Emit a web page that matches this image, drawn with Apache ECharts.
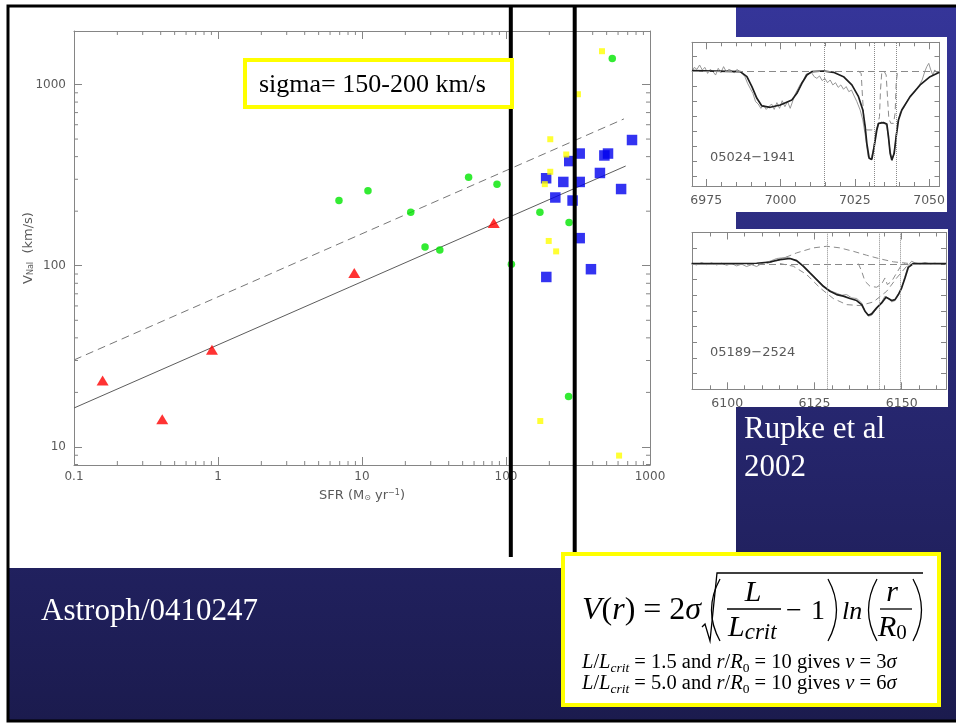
<!DOCTYPE html>
<html>
<head>
<meta charset="utf-8">
<title>NaI outflow velocity vs star formation rate</title>
<script src="https://cdn.jsdelivr.net/npm/echarts@6.0.0/dist/echarts.min.js"></script>
<style>
  html, body { margin: 0; padding: 0; background: #ffffff; }
  #chart { width: 956px; height: 723px; }
</style>
</head>
<body>
<div id="chart"></div>
<script>
// ---------- main panel: NaI outflow velocity against SFR ----------
const greenSFR = [6.92, 11.0, 21.8, 27.4, 34.7, 55.0, 86.6, 109, 172, 274, 547, 272];
const greenV   = [229, 259, 197, 127, 122, 308, 282, 102, 197, 173, 1392, 19.0];

const redSFR = [0.158, 0.41, 0.908, 8.84, 82.2];
const redV   = [23.3, 14.2, 34.4, 91.2, 172];

const blueSFR = [750, 325, 482, 511, 275, 190, 250, 325, 449, 630, 220, 290, 325, 389, 190.5];
const blueV   = [494, 416, 406, 416, 378, 304, 290, 290, 325, 265, 238, 229, 142, 95.7, 86.7];

const yellowSFR = [464, 316, 203, 262, 203, 186, 198, 223, 173, 610];
const yellowV   = [1527, 884, 499, 411, 330, 282, 137, 120, 13.9, 8.96];

// power-law relations (end points)
const fitSolid  = [[0.1, 16.4], [678, 355]];
const fitDashed = [[0.1, 30.2], [659, 646]];

// SFR of the two thick marker lines
const sfrCuts = [108, 300];

// minor tick positions of the log axes
const xMinorTicks = [0.2, 0.3, 0.4, 0.5, 0.6, 0.7, 0.8, 0.9,
                     2, 3, 4, 5, 6, 7, 8, 9,
                     20, 30, 40, 50, 60, 70, 80, 90,
                     200, 300, 400, 500, 600, 700, 800, 900];
const yMinorTicks = [8, 9, 20, 30, 40, 50, 60, 70, 80, 90,
                     200, 300, 400, 500, 600, 700, 800, 900];

// ---------- spectrum 05024-1941 (wavelength, normalised flux) ----------
const sp1Name = '05024\u22121941';
const sp1Lines = [7014.7, 7031.6, 7038.8];
const sp1Obs = [
  [6970.18,0.998],[6970.96,1.026],[6971.86,1.013],[6972.76,1.042],[6973.66,1.009],[6974.55,1.026],
  [6975.45,0.986],[6976.35,1.013],[6977.24,0.998],[6978.14,0.975],[6979.04,1.020],[6979.93,0.991],
  [6980.83,1.031],[6981.73,0.998],[6982.63,1.013],[6983.52,1.004],[6984.42,0.991],[6985.32,1.013],
  [6986.21,0.998],[6987.11,0.986],[6988.01,0.964],[6988.90,0.920],[6989.80,0.886],[6990.70,0.853],
  [6991.59,0.798],[6992.49,0.782],[6993.39,0.753],[6994.29,0.775],[6995.18,0.746],[6996.08,0.764],
  [6996.98,0.782],[6997.87,0.746],[6998.77,0.791],[6999.67,0.753],[7000.56,0.804],[7001.46,0.764],
  [7002.36,0.798],[7003.25,0.753],[7004.15,0.804],[7005.05,0.853],[7005.94,0.886],[7006.84,0.920],
  [7007.74,0.942],[7008.64,0.982],[7009.53,0.986],[7010.43,0.991],[7011.33,0.964],[7012.22,0.953],
  [7013.12,0.969],[7014.02,0.938],[7014.91,0.953],[7015.81,0.924],[7016.71,0.942],[7017.60,0.909],
  [7018.50,0.924],[7019.40,0.893],[7020.30,0.909],[7021.19,0.880],[7022.09,0.898],[7022.99,0.864],
  [7023.88,0.875],[7024.78,0.835],[7025.68,0.798],[7026.80,0.742],[7027.70,0.675],[7028.59,0.564],
  [7029.49,0.431],[7030.39,0.409],[7031.29,0.486],[7032.18,0.609],[7033.08,0.649],[7033.98,0.662],
  [7034.87,0.653],[7035.77,0.635],[7036.67,0.498],[7037.56,0.404],[7038.46,0.486],[7039.36,0.653],
  [7040.25,0.724],[7041.37,0.753],[7042.50,0.798],[7043.62,0.835],[7044.74,0.853],[7045.86,0.886],
  [7046.76,0.909],[7047.65,0.942],[7048.55,0.998],[7049.22,1.031],[7049.89,1.053],[7050.57,1.009],
  [7051.24,0.975],[7051.91,1.009],[7052.58,0.991],[7053.48,0.998]
];
const sp1Fit = [
  [6970.18,1.004],[6986.44,0.998],[6988.68,0.964],[6990.36,0.898],[6992.04,0.820],[6993.72,0.769],
  [6996.53,0.760],[6999.89,0.775],[7003.81,0.809],[7005.50,0.853],[7007.18,0.920],[7008.86,0.975],
  [7010.54,0.998],[7014.47,1.002],[7017.83,0.993],[7021.19,0.964],[7024.00,0.909],[7026.24,0.831],
  [7027.70,0.742],[7028.48,0.631],[7029.04,0.520],[7029.83,0.420],[7030.72,0.413],[7031.51,0.498],
  [7032.41,0.609],[7032.97,0.653],[7034.65,0.658],[7035.77,0.649],[7036.33,0.564],[7036.89,0.453],
  [7037.45,0.409],[7038.24,0.453],[7038.91,0.564],[7039.69,0.675],[7040.81,0.742],[7043.62,0.831],
  [7046.98,0.909],[7050.34,0.964],[7053.48,0.993]
];
const sp1CompA = [
  [7026.24,1.000],[7027.14,0.986],[7027.58,0.831],[7028.15,0.653],[7029.04,0.609],[7030.72,0.609],
  [7032.41,0.620],[7033.30,0.698],[7033.64,0.875],[7034.08,0.995],[7034.65,1.000]
];
const sp1CompB = [
  [7034.87,1.000],[7035.55,0.975],[7035.99,0.831],[7036.44,0.686],[7037.11,0.653],[7038.01,0.653],
  [7038.57,0.720],[7038.91,0.920],[7039.36,0.995],[7040.03,1.000]
];

// ---------- spectrum 05189-2524 ----------
const sp2Name = '05189\u22122524';
const sp2Lines = [6128.7, 6143.6, 6149.7];
const sp2Obs = [
  [6089.79,1.002],[6091.22,0.993],[6092.65,1.008],[6094.09,0.995],[6095.52,1.006],[6096.95,0.993],
  [6098.39,1.004],[6099.82,0.991],[6101.25,1.002],[6102.69,0.987],[6104.12,0.998],[6105.55,0.983],
  [6106.99,0.995],[6108.42,0.983],[6109.86,1.002],[6111.29,1.010],[6112.72,1.021],[6114.16,1.034],
  [6115.59,1.038],[6117.02,1.042],[6118.46,1.032],[6119.89,1.017],[6121.32,0.991],[6122.76,0.961],
  [6124.19,0.932],[6125.62,0.904],[6127.06,0.872],[6128.49,0.842],[6129.92,0.825],[6131.36,0.813],
  [6132.79,0.800],[6134.22,0.804],[6135.66,0.783],[6137.09,0.779],[6138.53,0.751],[6139.48,0.702],
  [6140.44,0.666],[6141.39,0.672],[6142.83,0.715],[6144.26,0.757],[6145.21,0.794],[6146.17,0.783],
  [6147.13,0.757],[6148.08,0.766],[6149.04,0.800],[6150.00,0.851],[6150.95,0.921],[6151.91,0.991],
  [6152.86,1.017],[6153.82,1.006],[6155.25,1.000],[6156.68,1.008],[6158.12,1.000],[6159.55,1.004],
  [6160.99,0.998],[6162.71,1.002]
];
const sp2Fit = [
  [6089.79,1.002],[6100.78,1.002],[6108.42,1.004],[6112.24,1.012],[6115.11,1.027],[6117.98,1.034],
  [6119.89,1.021],[6121.80,0.985],[6123.71,0.942],[6125.62,0.900],[6127.54,0.857],[6129.45,0.825],
  [6131.36,0.804],[6133.27,0.794],[6135.18,0.779],[6137.09,0.766],[6138.53,0.740],[6139.48,0.698],
  [6140.44,0.672],[6141.39,0.681],[6142.83,0.719],[6144.26,0.751],[6145.50,0.787],[6146.17,0.779],
  [6147.13,0.766],[6148.08,0.772],[6149.04,0.804],[6150.00,0.847],[6150.95,0.910],[6151.91,0.978],
  [6153.34,1.002],[6162.71,1.002]
];
const sp2Emission = [
  [6111.29,1.002],[6115.11,1.027],[6119.89,1.070],[6124.67,1.102],[6128.49,1.112],[6132.31,1.102],
  [6136.14,1.080],[6139.96,1.055],[6143.78,1.032],[6147.61,1.013],[6152.38,1.002]
];
const sp2Broad = [
  [6115.11,1.002],[6118.93,0.985],[6122.76,0.932],[6126.58,0.847],[6130.40,0.779],[6134.22,0.740],
  [6138.04,0.734],[6141.87,0.757],[6145.69,0.825],[6148.56,0.910],[6151.43,0.985],[6153.34,1.002]
];
const sp2Narrow = [
  [6137.57,1.002],[6138.53,0.953],[6139.48,0.889],[6140.92,0.857],[6142.83,0.851],[6144.26,0.872],
  [6145.21,0.910],[6145.88,0.868],[6147.13,0.889],[6148.56,0.942],[6149.99,0.995],[6150.95,1.002]
];

// ---------- helpers ----------
const pairs = (xs, ys) => xs.map((x, i) => [x, ys[i]]);
const AXIS = '#858585';
const LABEL = '#5a5a5a';
const SANS = 'DejaVu Sans';
const SERIF = '"Liberation Serif"';

const fmtLog = v => String(+Number(v).toPrecision(3));

function frameAxis(extra) {
  return Object.assign({
    axisLine: { show: true, lineStyle: { color: AXIS, width: 1 } },
    axisTick: { show: true, inside: true, length: 8, lineStyle: { color: AXIS } },
    axisLabel: { show: false },
    splitLine: { show: false }
  }, extra);
}

function spectrumX(grid, min, max, bottom) {
  return frameAxis({
    gridIndex: grid, type: 'value', min: min, max: max,
    minInterval: 25, maxInterval: 25, position: bottom ? 'bottom' : 'top',
    axisTick: { show: true, inside: true, length: 7, lineStyle: { color: AXIS } },
    minorTick: { show: true, splitNumber: 5, length: 4, lineStyle: { color: AXIS } },
    axisLabel: bottom ? {
      show: true, color: LABEL, fontFamily: SANS, fontSize: 12.5, margin: 8,
      showMinLabel: false, showMaxLabel: false, formatter: v => String(Math.round(v))
    } : { show: false }
  });
}

function spectrumY(grid, min, max, left) {
  return frameAxis({
    gridIndex: grid, type: 'value', min: min, max: max,
    minInterval: 0.1, maxInterval: 0.1, position: left ? 'left' : 'right',
    axisTick: { show: true, inside: true, length: 5, lineStyle: { color: AXIS } }
  });
}

function minorTickSeries(values, isX) {
  return {
    type: 'custom', xAxisIndex: 0, yAxisIndex: 0, silent: true, clip: false, z: 1,
    data: values.map(v => isX ? [v, 100] : [1, v]),
    renderItem: (params, api) => {
      const cs = params.coordSys;
      const p = api.coord([api.value(0), api.value(1)]);
      const st = { stroke: AXIS, lineWidth: 1 };
      if (isX) {
        const yb = cs.y + cs.height;
        return { type: 'group', children: [
          { type: 'line', shape: { x1: p[0], y1: yb, x2: p[0], y2: yb - 4 }, style: st },
          { type: 'line', shape: { x1: p[0], y1: cs.y, x2: p[0], y2: cs.y + 4 }, style: st }
        ] };
      }
      const xr = cs.x + cs.width;
      return { type: 'group', children: [
        { type: 'line', shape: { x1: cs.x, y1: p[1], x2: cs.x + 4, y2: p[1] }, style: st },
        { type: 'line', shape: { x1: xr, y1: p[1], x2: xr - 4, y2: p[1] }, style: st }
      ] };
    }
  };
}

function specLine(xi, data, color, width, dashed, extra) {
  return Object.assign({
    type: 'line', xAxisIndex: xi, yAxisIndex: xi, data: data, symbol: 'none', silent: true,
    lineStyle: { color: color, width: width, type: dashed ? [6, 4] : 'solid' }, z: 3
  }, extra || {});
}

function guideLines(lines) {
  return {
    silent: true, symbol: ['none', 'none'], label: { show: false }, animation: false,
    lineStyle: { color: '#8a8a8a', width: 1, type: 'dotted' },
    data: lines.map(v => ({ xAxis: v }))
  };
}

function continuumLine() {
  return {
    silent: true, symbol: ['none', 'none'], label: { show: false }, animation: false,
    lineStyle: { color: '#8a8a8a', width: 1, type: [7, 4] },
    data: [{ yAxis: 1 }]
  };
}

// simple typesetting of serif formula text, placed on a baseline
const measureCtx = document.createElement('canvas').getContext('2d');
function fontOf(t) { return (t.it ? 'italic ' : '') + t.size + 'px ' + SERIF; }
function textAt(id, x, baseline, t, align) {
  return {
    id: id, type: 'text', z: 62, x: x, y: baseline - 0.3375 * t.size,
    style: { text: t.s, font: fontOf(t), fill: '#000', align: align || 'left', verticalAlign: 'middle',
             textAlign: align || 'left', textVerticalAlign: 'middle' }
  };
}
function typeset(idBase, x, baseline, tokens) {
  const out = [];
  let cx = x;
  tokens.forEach((t, k) => {
    measureCtx.font = fontOf(t);
    out.push(textAt(idBase + k, cx, baseline + (t.dy || 0), t));
    cx += measureCtx.measureText(t.s).width;
  });
  return out;
}
function paren(id, x, open) {
  const ctrl = open ? x - 17 : x + 17;
  return { id: id, type: 'bezierCurve', z: 62,
           shape: { x1: x, y1: 579, x2: x, y2: 641, cpx1: ctrl, cpy1: 610 },
           style: { stroke: '#000', lineWidth: 1.3, fill: 'none' } };
}
function caseLine(idBase, baseline, ratio, factor) {
  const S = 20.5, s = 13.5;
  return typeset(idBase, 582, baseline, [
    { s: 'L', it: true, size: S }, { s: '/', size: S }, { s: 'L', it: true, size: S },
    { s: 'crit', it: true, size: s, dy: 3 }, { s: ' = ' + ratio + ' and ', size: S }, { s: 'r', it: true, size: S },
    { s: '/', size: S }, { s: 'R', it: true, size: S }, { s: '0', size: s, dy: 3 },
    { s: ' = 10 gives ', size: S }, { s: 'v', it: true, size: S }, { s: ' = ' + factor, size: S },
    { s: '\u03c3', it: true, size: S }
  ]);
}

// ---------- static drawing elements ----------
const statics = [
  { id: 'slide', type: 'rect', z: -20, shape: { x: 8, y: 6, width: 960, height: 715 },
    style: { fill: new echarts.graphic.LinearGradient(0, 0, 0, 1, [
      { offset: 0, color: '#353599' }, { offset: 1, color: '#1b1b4e' }]) } },
  { id: 'paper', type: 'rect', z: -15, shape: { x: 8, y: 6, width: 728, height: 562 }, style: { fill: '#ffffff' } },
  { id: 'specPaper1', type: 'rect', z: -15, shape: { x: 691, y: 37, width: 256, height: 175 }, style: { fill: '#ffffff' } },
  { id: 'specPaper2', type: 'rect', z: -15, shape: { x: 691, y: 229, width: 257, height: 178 }, style: { fill: '#ffffff' } },
  { id: 'slideEdge', type: 'rect', z: -10, shape: { x: 8, y: 6, width: 960, height: 715 },
    style: { fill: 'none', stroke: '#000000', lineWidth: 3 } },

  { id: 'sigmaBox', type: 'rect', z: 50, shape: { x: 245, y: 60, width: 267, height: 47 },
    style: { fill: '#ffffff', stroke: '#ffff00', lineWidth: 4 } },
  textAt('sigmaText', 259, 94, { s: 'sigma= 150-200 km/s', size: 26 }),

  { id: 'sp1Label', type: 'text', z: 20, x: 710, y: 158,
    style: { text: sp1Name, font: '13px "DejaVu Sans"', fill: LABEL, align: 'left', verticalAlign: 'middle',
             textAlign: 'left', textVerticalAlign: 'middle' } },
  { id: 'sp2Label', type: 'text', z: 20, x: 710, y: 353,
    style: { text: sp2Name, font: '13px "DejaVu Sans"', fill: LABEL, align: 'left', verticalAlign: 'middle',
             textAlign: 'left', textVerticalAlign: 'middle' } },

  { id: 'rupke1', type: 'text', z: 20, x: 744, y: 430,
    style: { text: 'Rupke et al', font: '31px ' + SERIF, fill: '#ffffff', align: 'left', verticalAlign: 'middle',
             textAlign: 'left', textVerticalAlign: 'middle' } },
  { id: 'rupke2', type: 'text', z: 20, x: 744, y: 468,
    style: { text: '2002', font: '31px ' + SERIF, fill: '#ffffff', align: 'left', verticalAlign: 'middle',
             textAlign: 'left', textVerticalAlign: 'middle' } },
  { id: 'astroph', type: 'text', z: 20, x: 41, y: 612,
    style: { text: 'Astroph/0410247', font: '31px ' + SERIF, fill: '#ffffff', align: 'left', verticalAlign: 'middle',
             textAlign: 'left', textVerticalAlign: 'middle' } },

  // outflow velocity formula
  { id: 'eqBox', type: 'rect', z: 60, shape: { x: 563, y: 554, width: 376, height: 151 },
    style: { fill: '#ffffff', stroke: '#ffff00', lineWidth: 4 } }
].concat(
  typeset('eqA', 582, 621, [
    { s: 'V', it: true, size: 32 }, { s: '(', size: 32 }, { s: 'r', it: true, size: 32 },
    { s: ') = 2', size: 32 }, { s: '\u03c3', it: true, size: 32 }
  ]),
  [
    { id: 'radical', type: 'polyline', z: 62,
      shape: { points: [[702, 627], [705, 624], [710, 641], [717, 573], [923, 573]] },
      style: { stroke: '#000', lineWidth: 1.3, fill: 'none' } },
    paren('p1', 720, true), paren('p2', 828, false), paren('p3', 877, true), paren('p4', 913, false),
    textAt('numL', 753, 603, { s: 'L', it: true, size: 30 }, 'center'),
    { id: 'bar1', type: 'line', z: 62, shape: { x1: 727, y1: 609, x2: 781, y2: 609 }, style: { stroke: '#000', lineWidth: 1.3 } },
    { id: 'bar2', type: 'line', z: 62, shape: { x1: 880, y1: 609, x2: 912, y2: 609 }, style: { stroke: '#000', lineWidth: 1.3 } },
    textAt('minus', 786, 621, { s: '\u2212', size: 28 }),
    textAt('one', 811, 621, { s: '1', size: 28 }),
    textAt('ln', 842, 621, { s: 'ln', it: true, size: 26 }),
    textAt('numR', 892, 603, { s: 'r', it: true, size: 30 }, 'center')
  ],
  typeset('denL', 728, 638, [{ s: 'L', it: true, size: 30 }, { s: 'crit', it: true, size: 23, dy: 3 }]),
  typeset('denR', 878, 638, [{ s: 'R', it: true, size: 30 }, { s: '0', size: 21, dy: 3 }]),
  caseLine('caseA', 670, '1.5', '3'),
  caseLine('caseB', 691, '5.0', '6')
);

const nameRich = {
  a: { fontFamily: SANS, fontSize: 13, color: LABEL },
  b: { fontFamily: SANS, fontSize: 8, color: LABEL, verticalAlign: 'bottom' },
  c: { fontFamily: SANS, fontSize: 8, color: LABEL, verticalAlign: 'top' }
};

const option = {
  backgroundColor: '#ffffff',
  animation: false,
  graphic: statics,
  grid: [
    { left: 74, top: 31, width: 576, height: 434 },
    { left: 692, top: 42.3, width: 247.5, height: 143.7 },
    { left: 692, top: 232.5, width: 254, height: 156.8 }
  ],
  xAxis: [
    frameAxis({
      gridIndex: 0, type: 'log', logBase: 10, min: 0.1, max: 1000, position: 'bottom',
      axisLabel: { show: true, color: LABEL, fontFamily: SANS, fontSize: 12, margin: 6,
                   showMinLabel: true, showMaxLabel: true, formatter: fmtLog },
      name: '{a|SFR (M}{b|\u2299}{a| yr}{c|\u22121}{a|)}',
      nameLocation: 'middle', nameGap: 24, nameMoveOverlap: false, nameTextStyle: { rich: nameRich }
    }),
    frameAxis({ gridIndex: 0, type: 'log', logBase: 10, min: 0.1, max: 1000, position: 'top' }),
    spectrumX(1, 6970.2, 7053.5, true),
    spectrumX(1, 6970.2, 7053.5, false),
    spectrumX(2, 6089.9, 6162.7, true),
    spectrumX(2, 6089.9, 6162.7, false)
  ],
  yAxis: [
    frameAxis({
      gridIndex: 0, type: 'log', logBase: 10, min: 7.95, max: 1974, position: 'left',
      axisLabel: { show: true, color: LABEL, fontFamily: SANS, fontSize: 12, margin: 8,
                   showMinLabel: false, showMaxLabel: false, formatter: fmtLog },
      name: '{a|V}{b|NaI}{a|  (km/s)}', nameLocation: 'middle', nameGap: 39, nameRotate: 90,
      nameMoveOverlap: false, nameTextStyle: { rich: nameRich }
    }),
    frameAxis({ gridIndex: 0, type: 'log', logBase: 10, min: 7.95, max: 1974, position: 'right' }),
    spectrumY(1, 0.2353, 1.1933, true),
    spectrumY(1, 0.2353, 1.1933, false),
    spectrumY(2, 0.2, 1.2, true),
    spectrumY(2, 0.2, 1.2, false)
  ],
  series: [
    { type: 'line', xAxisIndex: 0, yAxisIndex: 0, data: fitSolid, symbol: 'none', silent: true, z: 3,
      lineStyle: { color: '#5c5c5c', width: 1 } },
    { type: 'line', xAxisIndex: 0, yAxisIndex: 0, data: fitDashed, symbol: 'none', silent: true, z: 3,
      lineStyle: { color: '#777777', width: 1, type: [8, 5] } },
    minorTickSeries(xMinorTicks, true),
    minorTickSeries(yMinorTicks, false),
    { type: 'scatter', xAxisIndex: 0, yAxisIndex: 0, data: pairs(greenSFR, greenV), silent: true, z: 5,
      symbol: 'circle', symbolSize: 7.5, itemStyle: { color: '#00e600' } },
    { type: 'scatter', xAxisIndex: 0, yAxisIndex: 0, data: pairs(redSFR, redV), silent: true, z: 5,
      symbol: 'triangle', symbolSize: [12, 10], itemStyle: { color: '#ff0000' } },
    { type: 'scatter', xAxisIndex: 0, yAxisIndex: 0, data: pairs(blueSFR, blueV), silent: true, z: 5,
      symbol: 'rect', symbolSize: 10.5, itemStyle: { color: '#0000ee' } },
    { type: 'scatter', xAxisIndex: 0, yAxisIndex: 0, data: pairs(yellowSFR, yellowV), silent: true, z: 6,
      symbol: 'rect', symbolSize: 6, itemStyle: { color: '#ffff00' } },

    specLine(2, sp1Obs, '#8c8c8c', 0.9, false, { markLine: guideLines(sp1Lines) }),
    specLine(2, sp1CompA, '#8c8c8c', 1, true, { markLine: continuumLine() }),
    specLine(2, sp1CompB, '#8c8c8c', 1, true),
    specLine(2, sp1Fit, '#1e1e1e', 1.7, false, { z: 4 }),

    specLine(4, sp2Obs, '#8c8c8c', 0.9, false, { markLine: guideLines(sp2Lines) }),
    specLine(4, sp2Emission, '#8c8c8c', 1, true, { markLine: continuumLine() }),
    specLine(4, sp2Broad, '#8c8c8c', 1, true),
    specLine(4, sp2Narrow, '#8c8c8c', 1, true),
    specLine(4, sp2Fit, '#1e1e1e', 1.7, false, { z: 4 })
  ]
};

const chart = echarts.init(document.getElementById('chart'), null, { renderer: 'canvas' });
chart.setOption(option);

// thick vertical markers at fixed SFR values, spanning the slide
const cutLines = sfrCuts.map((v, i) => {
  const px = chart.convertToPixel({ xAxisIndex: 0 }, v);
  return { id: 'cut' + i, type: 'line', z: 40,
           shape: { x1: px, y1: 6, x2: px, y2: i === 0 ? 557 : 562 },
           style: { stroke: '#000000', lineWidth: 4 } };
});
chart.setOption({ graphic: statics.concat(cutLines) });
</script>
</body>
</html>
